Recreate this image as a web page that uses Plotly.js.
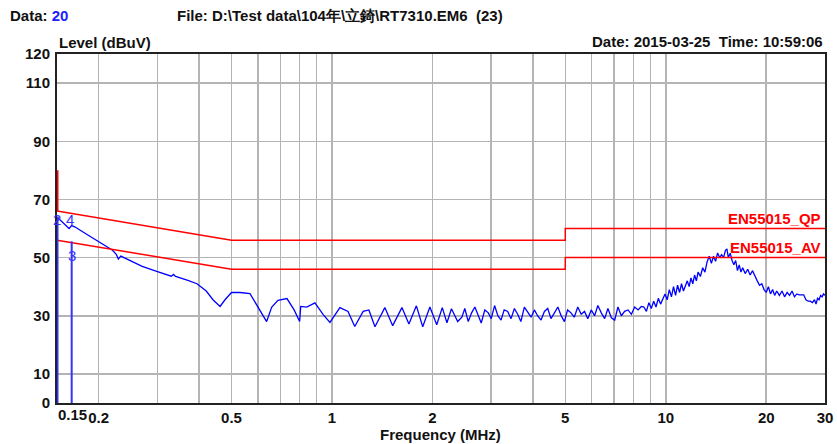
<!DOCTYPE html>
<html><head><meta charset="utf-8">
<script src="https://cdn.plot.ly/plotly-3.0.1.min.js"></script>
<style>html,body{margin:0;padding:0;background:#fff;}#chart{width:837px;height:444px;}</style>
</head><body><div id="chart"></div>
<script>
const freqMHz = [
 0.150,0.153,0.157,0.160,0.163,0.166,0.170,0.180,0.190,0.200,0.210,0.220,0.226,0.229,0.233,0.250,0.270,0.300,0.320,0.330,
 0.335,0.340,0.370,0.394,0.420,0.440,0.462,0.478,0.500,0.530,0.568,0.600,0.637,0.660,0.689,0.733,0.770,0.800,0.806,0.840,
 0.889,0.940,0.986,1.056,1.117,1.170,1.240,1.290,1.345,1.440,1.520,1.620,1.700,1.790,1.870,1.965,2.060,2.140,2.210,2.280,
 2.380,
 2.45,2.50,2.56,2.62,2.68,2.74,2.80,2.87,2.94,3.00,3.07,3.14,3.21,3.28,3.36,3.44,3.52,3.60,3.68,3.77,
 3.86,3.95,4.04,4.13,4.23,4.33,4.43,4.53,4.64,4.75,4.86,4.97,5.08,5.20,5.32,5.45,5.58,5.71,5.84,5.98,
 6.12,6.26,6.41,6.56,6.71,6.87,7.03,7.19,7.36,7.53,7.71,7.89,8.07,8.26,8.45,
 8.60,8.75,8.90,9.05,9.20,9.35,9.50,9.65,9.80,9.95,10.1,10.25,10.4,10.55,10.7,10.85,11.0,11.15,11.3,11.45,
 11.6,11.75,11.9,12.05,12.2,12.35,12.5,12.7,12.9,13.1,13.3,13.5,13.7,13.9,14.1,14.3,14.5,14.7,14.9,15.1,
 15.25,15.4,15.6,15.8,16.0,16.2,16.4,16.6,16.8,17.0,17.3,17.6,17.9,18.2,18.5,18.8,19.1,19.4,19.7,20.0,
 20.3,20.6,20.9,21.2,21.5,21.9,22.3,22.7,23.1,23.5,23.9,24.3,24.7,25.1,25.5,25.9,26.3,26.7,27.1,27.5,
 27.9,28.2,28.5,28.8,29.1,29.4,29.7,30.0
];
const levelDbuV = [
 64.0,63.0,62.0,61.0,60.0,61.0,60.5,58.7,57.0,55.5,54.0,52.5,51.0,49.5,50.5,48.8,47.0,45.2,44.0,43.6,
 44.2,43.5,42.2,41.0,38.5,35.5,33.2,35.5,38.0,38.0,37.6,33.0,28.0,33.0,35.3,35.9,32.0,28.0,33.2,33.0,
 34.4,30.5,27.7,32.8,31.5,26.3,31.5,32.0,26.2,32.8,26.6,32.8,27.2,33.4,26.2,33.0,26.9,32.8,27.6,32.4,
 28.0,
 29.5,32.5,28.0,31.0,33.0,30.0,27.5,32.0,31.0,29.0,33.5,30.0,28.5,32.0,31.5,29.0,32.5,30.5,28.0,33.0,
 31.0,29.5,32.0,30.0,28.5,31.5,32.5,29.0,31.0,33.0,30.0,28.0,32.0,31.0,29.5,33.0,30.5,31.5,29.0,32.0,
 30.0,33.5,31.0,29.0,32.5,29.3,28.5,33.0,30.0,31.5,32.0,30.5,33.0,32.0,33.2,
 33.0,31.5,34.5,32.5,35.0,33.0,36.0,34.0,35.5,37.5,35.5,39.0,36.5,40.0,37.0,40.5,38.0,41.0,38.5,40.0,
 42.0,40.0,43.0,41.0,44.0,42.0,45.0,43.5,46.5,45.0,48.5,50.5,48.0,50.5,48.7,51.6,50.0,51.0,50.0,52.5,
 53.0,50.0,51.5,49.0,47.5,49.0,45.5,47.5,45.0,46.5,44.5,46.0,44.0,45.5,43.5,42.0,40.5,41.0,39.0,38.0,
 40.0,37.5,39.0,37.0,38.5,37.0,38.5,36.5,38.0,37.0,38.5,36.5,37.5,37.2,37.2,37.2,35.5,35.0,35.0,34.5,
 35.5,34.0,36.0,35.5,37.0,36.5,37.5,37.0
];
// Limit lines EN55015
const limitFreq = [0.15,0.5,0.5,5,5,30];
const limitQP = [66,56,56,56,60,60];
const limitAV = [56,46,46,46,50,50];
const qpStubFreq = [0.15,0.15];
const qpStubLevel = [66,80];
// Markers
const markerFreq = [0.15,0.166];
const markerTop = [64,55.6];
const markerLabels = ['2','4','3'];
const markerLabelFreq = [0.1505,0.164,0.166];
const markerLabelLevel = [63.1,63.1,50.7];
// Axis ticks
const xTickVals = [0.15,0.2,0.5,1,2,5,10,20,30];
const xTickText = ['','0.2','0.5','1','2','5','10','20','30'];
const xMinorVals = [0.3,0.4,0.6,0.7,0.8,0.9,3,4,6,7,8,9];
const yTickVals = [0,10,30,50,70,90,110,120];

const FONT = 'Liberation Sans, Arial, sans-serif';
const traces = [
  {x:freqMHz,y:levelDbuV,type:'scatter',mode:'lines',line:{color:'#0000ff',width:1.3},hoverinfo:'skip'},
  {x:limitFreq,y:limitQP,type:'scatter',mode:'lines',line:{color:'#ff0000',width:1.5},hoverinfo:'skip'},
  {x:limitFreq,y:limitAV,type:'scatter',mode:'lines',line:{color:'#ff0000',width:1.5},hoverinfo:'skip'},
  {x:qpStubFreq,y:qpStubLevel,type:'scatter',mode:'lines',line:{color:'#ff0000',width:3},hoverinfo:'skip'}
];
markerFreq.forEach((f,i)=>{
  traces.push({x:[f,f],y:[0,markerTop[i]],type:'scatter',mode:'lines',line:{color:'#3333ff',width:i===0?3:2},hoverinfo:'skip'});
});
const ann = [];
const bold = (t,size,color)=>({family:FONT,size:size,color:color||'#111',weight:'bold'});
ann.push({xref:'paper',yref:'paper',x:(8-57)/768,y:(403-15)/349,xanchor:'left',yanchor:'middle',showarrow:false,
  text:'Data: <span style="color:#2020ff">20</span>',font:bold('',15)});
ann.push({xref:'paper',yref:'paper',x:(175-57)/768,y:(403-15)/349,xanchor:'left',yanchor:'middle',showarrow:false,
  text:'File: D:\\Test data\\104年\\立錡\\RT7310.EM6  (23)',font:bold('',15)});
ann.push({xref:'paper',yref:'paper',x:1,y:(403-41)/349,xanchor:'right',yanchor:'middle',showarrow:false,
  text:'Date: 2015-03-25  Time: 10:59:06',font:bold('',15)});
ann.push({xref:'paper',yref:'paper',x:0,y:(403-42)/349,xanchor:'left',yanchor:'middle',showarrow:false,
  text:'Level (dBuV)',font:bold('',15)});
ann.push({xref:'paper',yref:'paper',x:(440-57)/768,y:(403-434)/349,xanchor:'center',yanchor:'middle',showarrow:false,
  text:'Frequency (MHz)',font:bold('',15)});
ann.push({xref:'paper',yref:'paper',x:-0.001,y:(403-414)/349,xanchor:'left',yanchor:'middle',showarrow:false,
  text:'0.15',font:bold('',15)});
ann.push({xref:'paper',yref:'y',x:(823-57)/768,y:60,xanchor:'right',yanchor:'bottom',yshift:0,showarrow:false,
  text:'EN55015_QP',font:bold('',15,'#ff0000')});
ann.push({xref:'paper',yref:'y',x:(823-57)/768,y:50,xanchor:'right',yanchor:'bottom',yshift:0,showarrow:false,
  text:'EN55015_AV',font:bold('',15,'#ff0000')});
markerLabels.forEach((t,i)=>{
  ann.push({xref:'x',yref:'y',x:Math.log10(markerLabelFreq[i]),y:markerLabelLevel[i],xanchor:'center',yanchor:'middle',showarrow:false,
    text:t,font:{family:FONT,size:15,color:'#3333ff'}});
});

const layout = {
  width:837,height:444,margin:{l:57,r:12,t:54,b:41},
  paper_bgcolor:'#fff',plot_bgcolor:'#fff',showlegend:false,
  font:{family:FONT,size:15,color:'#111'},
  xaxis:{type:'log',range:[Math.log10(0.15),Math.log10(30)],tickmode:'array',tickvals:xTickVals,ticktext:xTickText,
    showgrid:true,gridcolor:'#b4b4b4',gridwidth:1.5,ticks:'',tickfont:bold('',15),
    minor:{tickmode:'array',tickvals:xMinorVals,showgrid:true,gridcolor:'#b4b4b4',gridwidth:1.5,ticks:''},
    showline:true,linecolor:'#222',linewidth:2,mirror:true,zeroline:false},
  yaxis:{range:[0,120],tickmode:'array',tickvals:yTickVals,showgrid:true,gridcolor:'#b4b4b4',gridwidth:1.5,ticks:'',
    tickfont:bold('',15),showline:true,linecolor:'#222',linewidth:2,mirror:true,zeroline:false,ticklabelstandoff:2,
    layer:'below traces'},
  annotations:ann
};
Plotly.newPlot('chart',traces,layout,{staticPlot:true,displayModeBar:false});
</script></body></html>
